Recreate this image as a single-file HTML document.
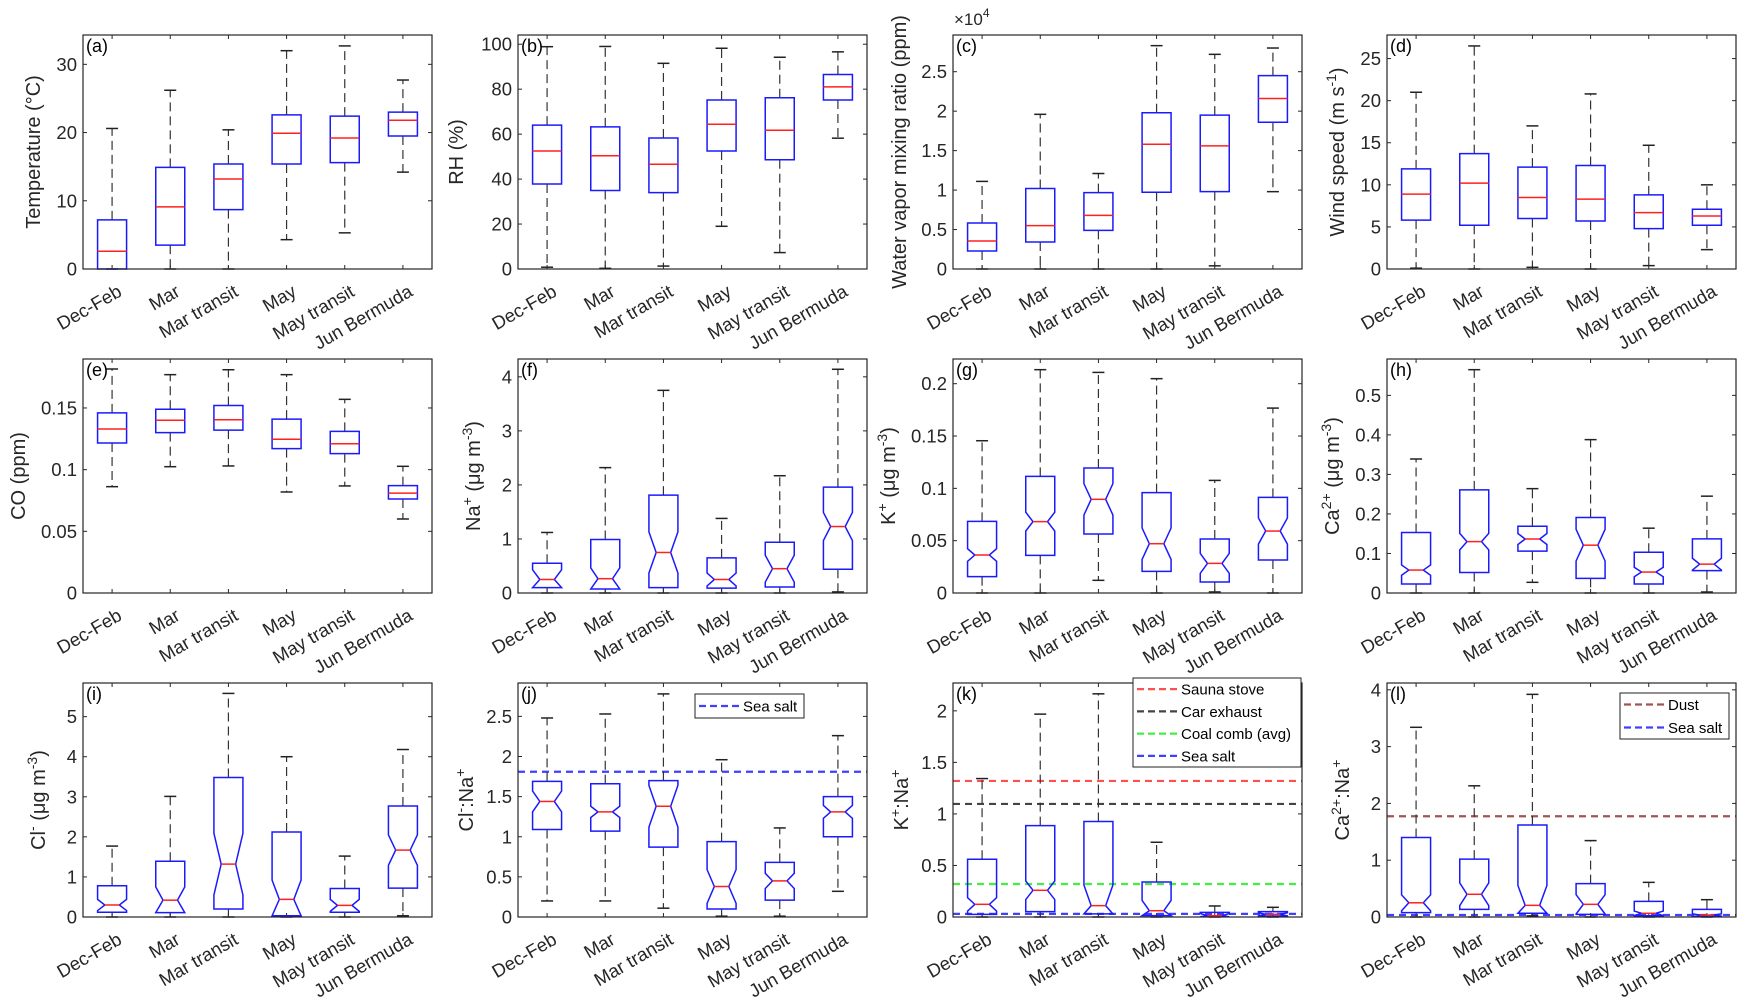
<!DOCTYPE html>
<html><head><meta charset="utf-8"><style>
html,body{margin:0;padding:0;background:#fff}
svg{display:block;font-family:"Liberation Sans",Arial,sans-serif}
</style></head><body>
<svg id="fig" width="1752" height="1005" viewBox="0 0 1752 1005" xmlns="http://www.w3.org/2000/svg"></svg>
<script>
const categories = ["Dec-Feb","Mar","Mar transit","May","May transit","Jun Bermuda"];
// per panel: whisker low, q1, median, q3, whisker high, notch half-height
const aLo=[0,0,0,4.3,5.3,14.2], aQ1=[0,3.5,8.7,15.4,15.6,19.5], aMed=[2.6,9.1,13.2,19.9,19.2,21.8], aQ3=[7.2,14.9,15.4,22.6,22.4,23], aHi=[20.6,26.2,20.4,32,32.7,27.7], aN=[0,0,0,0,0,0];
const bLo=[0.8,0.3,1.3,19,7.3,58.2], bQ1=[37.8,34.9,34,52.5,48.6,75.2], bMed=[52.5,50.4,46.6,64.4,61.7,81], bQ3=[64,63.2,58.3,75.2,76.2,86.5], bHi=[98.9,99,91.5,98.2,94.2,96.6], bN=[0,0,0,0,0,0];
const cLo=[0,0,0,0,0.04,0.98], cQ1=[0.228,0.342,0.49,0.972,0.98,1.86], cMed=[0.355,0.55,0.68,1.58,1.56,2.16], cQ3=[0.583,1.02,0.967,1.98,1.95,2.45], cHi=[1.11,1.96,1.21,2.83,2.72,2.8], cN=[0,0,0,0,0,0];
const dLo=[0.1,0,0.2,0,0.4,2.3], dQ1=[5.8,5.2,6,5.7,4.8,5.2], dMed=[8.9,10.2,8.5,8.3,6.7,6.3], dQ3=[11.9,13.7,12.1,12.3,8.8,7.1], dHi=[21,26.5,17,20.8,14.7,10], dN=[0,0,0,0,0,0];
const eLo=[0.0862,0.1024,0.103,0.0819,0.0868,0.06], eQ1=[0.1216,0.13,0.132,0.117,0.113,0.0762], eMed=[0.133,0.14,0.1405,0.1246,0.121,0.081], eQ3=[0.146,0.149,0.152,0.141,0.131,0.087], eHi=[0.1816,0.177,0.181,0.177,0.157,0.1027], eN=[0,0,0,0,0,0];
const fLo=[0,0,0,0,0,0.02], fQ1=[0.1,0.074,0.1,0.09,0.11,0.44], fMed=[0.25,0.265,0.75,0.25,0.45,1.23], fQ3=[0.55,0.99,1.81,0.65,0.94,1.96], fHi=[1.12,2.32,3.75,1.38,2.17,4.14], fN=[0.18,0.2,0.38,0.12,0.25,0.26];
const gLo=[0,0,0.0121,0,0.001,0], gQ1=[0.0156,0.036,0.0564,0.0207,0.0105,0.0315], gMed=[0.0363,0.0682,0.0895,0.0471,0.0283,0.0592], gQ3=[0.0685,0.1115,0.1194,0.0959,0.0516,0.0914], gHi=[0.1455,0.2134,0.2108,0.2048,0.1076,0.1767], gN=[0.006,0.009,0.015,0.015,0.0095,0.0125];
const hLo=[0,0,0.027,0,0,0.0025], hQ1=[0.0228,0.052,0.106,0.037,0.0228,0.0565], hMed=[0.058,0.13,0.1366,0.121,0.053,0.073], hQ3=[0.153,0.261,0.169,0.191,0.103,0.137], hHi=[0.339,0.565,0.264,0.388,0.164,0.245], hN=[0.013,0.021,0.014,0.04,0.012,0.015];
const iLo=[0,0,0,0,0,0.03], iQ1=[0.12,0.11,0.2,0.03,0.12,0.72], iMed=[0.3,0.42,1.32,0.44,0.29,1.67], iQ3=[0.78,1.39,3.48,2.12,0.71,2.77], iHi=[1.77,3.01,5.58,4.0,1.52,4.18], iN=[0.14,0.33,0.77,0.48,0.15,0.38];
const jLo=[0.2,0.2,0.11,0.01,0.01,0.32], jQ1=[1.09,1.07,0.87,0.1,0.21,1.0], jMed=[1.44,1.31,1.38,0.38,0.45,1.31], jQ3=[1.69,1.66,1.7,0.94,0.68,1.5], jHi=[2.48,2.53,2.78,1.96,1.11,2.26], jN=[0.13,0.07,0.26,0.21,0.095,0.08];
const kLo=[0,0,0,0,0,0], kQ1=[0.026,0.052,0.03,0.013,0.003,0.01], kMed=[0.123,0.259,0.11,0.061,0.013,0.026], kQ3=[0.56,0.887,0.926,0.34,0.045,0.052], kHi=[1.343,1.968,2.165,0.725,0.107,0.094], kN=[0.065,0.09,0.2,0.1,0.02,0.015];
const lLo=[0,0,0.02,0,0,0], lQ1=[0.076,0.135,0.065,0.047,0.023,0.012], lMed=[0.25,0.40,0.205,0.223,0.065,0.035], lQ3=[1.40,1.02,1.62,0.587,0.276,0.135], lHi=[3.34,2.31,3.92,1.345,0.61,0.305], lN=[0.14,0.2,0.35,0.17,0.04,0.02];
// reference ratio lines
const jRefNames=["Sea salt"], jRefValues=[1.81];
const kRefNames=["Sauna stove","Car exhaust","Coal comb (avg)","Sea salt"], kRefValues=[1.32,1.097,0.32,0.03];
const lRefNames=["Dust","Sea salt"], lRefValues=[1.774,0.035];
// tick labels
const aTicks=[0,10,20,30], bTicks=[0,20,40,60,80,100], cTicks=[0,0.5,1,1.5,2,2.5], dTicks=[0,5,10,15,20,25];
const eTicks=[0,0.05,0.1,0.15], fTicks=[0,1,2,3,4], gTicks=[0,0.05,0.1,0.15,0.2], hTicks=[0,0.1,0.2,0.3,0.4,0.5];
const iTicks=[0,1,2,3,4,5], jTicks=[0,0.5,1,1.5,2,2.5], kTicks=[0,0.5,1,1.5,2], lTicks=[0,1,2,3,4];

const NS="http://www.w3.org/2000/svg";
const svg=document.getElementById('fig');
function mk(tag,attrs,parent){const e=document.createElementNS(NS,tag);for(const k in attrs)e.setAttribute(k,attrs[k]);(parent||svg).appendChild(e);return e;}
const colL=[83,518,953,1387], rowT=[35,359,683], PW=349, PH=234;
const refColors={"Sauna stove":"#ff5050","Car exhaust":"#444444","Coal comb (avg)":"#44ee44","Sea salt":"#4040ff","Dust":"#a05555"};

const panels=[
 {id:'a',lo:aLo,q1:aQ1,med:aMed,q3:aQ3,hi:aHi,n:aN,ymax:34.3,ticks:aTicks,title:[["Temperature (°C)",0]],toff:43},
 {id:'b',lo:bLo,q1:bQ1,med:bMed,q3:bQ3,hi:bHi,n:bN,ymax:104.1,ticks:bTicks,title:[["RH (%)",0]],toff:55},
 {id:'c',lo:cLo,q1:cQ1,med:cMed,q3:cQ3,hi:cHi,n:cN,ymax:2.965,ticks:cTicks,title:[["Water vapor mixing ratio (ppm)",0]],toff:47},
 {id:'d',lo:dLo,q1:dQ1,med:dMed,q3:dQ3,hi:dHi,n:dN,ymax:27.8,ticks:dTicks,title:[["Wind speed (m s",0],["-1",1],[")",0]],toff:43},
 {id:'e',lo:eLo,q1:eQ1,med:eMed,q3:eQ3,hi:eHi,n:eN,ymax:0.1897,ticks:eTicks,title:[["CO (ppm)",0]],toff:58},
 {id:'f',lo:fLo,q1:fQ1,med:fMed,q3:fQ3,hi:fHi,n:fN,ymax:4.33,ticks:fTicks,title:[["Na",0],["+",1],[" (μg m",0],["-3",1],[")",0]],toff:38},
 {id:'g',lo:gLo,q1:gQ1,med:gMed,q3:gQ3,hi:gHi,n:gN,ymax:0.2236,ticks:gTicks,title:[["K",0],["+",1],[" (μg m",0],["-3",1],[")",0]],toff:58},
 {id:'h',lo:hLo,q1:hQ1,med:hMed,q3:hQ3,hi:hHi,n:hN,ymax:0.592,ticks:hTicks,title:[["Ca",0],["2+",1],[" (μg m",0],["-3",1],[")",0]],toff:48},
 {id:'i',lo:iLo,q1:iQ1,med:iMed,q3:iQ3,hi:iHi,n:iN,ymax:5.84,ticks:iTicks,title:[["Cl",0],["-",1],[" (μg m",0],["-3",1],[")",0]],toff:38},
 {id:'j',lo:jLo,q1:jQ1,med:jMed,q3:jQ3,hi:jHi,n:jN,ymax:2.916,ticks:jTicks,title:[["Cl",0],["-",1],[":Na",0],["+",1]],toff:45,refN:jRefNames,refV:jRefValues,leg:{x:695,y:694,w:109,h:24}},
 {id:'k',lo:kLo,q1:kQ1,med:kMed,q3:kQ3,hi:kHi,n:kN,ymax:2.27,ticks:kTicks,title:[["K",0],["+",1],[":Na",0],["+",1]],toff:45,refN:kRefNames,refV:kRefValues,leg:{x:1133,y:678,w:168,h:89}},
 {id:'l',lo:lLo,q1:lQ1,med:lMed,q3:lQ3,hi:lHi,n:lN,ymax:4.12,ticks:lTicks,title:[["Ca",0],["2+",1],[":Na",0],["+",1]],toff:38,refN:lRefNames,refV:lRefValues,leg:{x:1620,y:693,w:109,h:46}}
];

panels.forEach((p,pi)=>{
  const L=colL[pi%4], T=rowT[Math.floor(pi/4)], B=T+PH, R=L+PW;
  const g=mk('g',{});
  
  
  const xs=i=>L+(i+0.5)*PW/6;
  const ys=v=>B-v/p.ymax*PH;
  p.ticks.forEach(t=>{
    const y=ys(t);
    mk('line',{x1:L,x2:L+4,y1:y,y2:y,stroke:'#262626','stroke-width':1},g);
    mk('line',{x1:R,x2:R-4,y1:y,y2:y,stroke:'#262626','stroke-width':1},g);
    const tl=mk('text',{x:L-6,y:y+6.5,'text-anchor':'end','font-size':18.5,fill:'#262626'},g);
    tl.textContent=String(t);
    
    
  });
  categories.forEach((c,i)=>{
    const x=xs(i);
    mk('line',{x1:x,x2:x,y1:B,y2:B-4,stroke:'#262626','stroke-width':1},g);
    mk('line',{x1:x,x2:x,y1:T,y2:T+4,stroke:'#262626','stroke-width':1},g);
    const tx=x+11, ty=B+26;
    const cl=mk('text',{x:tx,y:ty,'text-anchor':'end','font-size':18.5,fill:'#262626',transform:`rotate(-30 ${tx} ${ty})`},g);
    cl.textContent=c;
    
    
  });
  if(p.refV){
    p.refV.forEach((v,k)=>{
      const rl=mk('line',{x1:L,x2:R,y1:ys(v),y2:ys(v),stroke:refColors[p.refN[k]],'stroke-width':2.2,'stroke-dasharray':'7 5'},g);
      
      
    });
  }
  const hw=14.5;
  categories.forEach((c,i)=>{
    const x=xs(i);
    const bg=mk('g',{},g);
    
    
    const yHi=ys(p.hi[i]), yQ3=ys(p.q3[i]), yM=ys(p.med[i]), yQ1=ys(p.q1[i]), yLo=ys(p.lo[i]);
    mk('line',{x1:x,x2:x,y1:yQ3,y2:yHi,stroke:'#333','stroke-width':1.2,'stroke-dasharray':'9 5'},bg);
    mk('line',{x1:x,x2:x,y1:yQ1,y2:yLo,stroke:'#333','stroke-width':1.2,'stroke-dasharray':'9 5'},bg);
    mk('line',{x1:x-6,x2:x+6,y1:yHi,y2:yHi,stroke:'#222','stroke-width':1.5},bg);
    mk('line',{x1:x-6,x2:x+6,y1:yLo,y2:yLo,stroke:'#222','stroke-width':1.5},bg);
    const n=p.n[i];
    let pts, mw=hw;
    if(n>0){
      const a=ys(Math.min(p.med[i]+n,p.q3[i])), b=ys(Math.max(p.med[i]-n,p.q1[i]));
      mw=hw/2;
      pts=[[x-hw,yQ1],[x-hw,b],[x-mw,yM],[x-hw,a],[x-hw,yQ3],[x+hw,yQ3],[x+hw,a],[x+mw,yM],[x+hw,b],[x+hw,yQ1]];
    } else {
      pts=[[x-hw,yQ1],[x-hw,yQ3],[x+hw,yQ3],[x+hw,yQ1]];
    }
    mk('polygon',{points:pts.map(q=>q.join(',')).join(' '),fill:'none',stroke:'#1a1aff','stroke-width':1.5},bg);
    mk('line',{x1:x-mw,x2:x+mw,y1:yM,y2:yM,stroke:'#ff2020','stroke-width':1.5},bg);
  });
  mk('rect',{x:L,y:T,width:PW,height:PH,fill:'none',stroke:'#262626','stroke-width':1.2},g);
  const pl=mk('text',{x:L+3,y:T+17,'font-size':18,fill:'#000'},g);
  pl.textContent='('+p.id+')';
  
  
  const cx=L-p.toff, cy=T+PH/2;
  const yt=mk('text',{x:cx,y:cy,'text-anchor':'middle','font-size':20,fill:'#262626',transform:`rotate(-90 ${cx} ${cy})`},g);
  
  
  let pend=0;
  p.title.forEach(([s,sup])=>{
    let ts;
    if(sup){ ts=mk('tspan',{'font-size':14,dy:-8+pend},yt); pend=8; }
    else { ts=mk('tspan',{dy:pend},yt); pend=0; }
    ts.textContent=s;
  });
  if(p.id==='c'){
    const ex=mk('text',{x:L+1,y:T-10,'font-size':17,fill:'#262626'},g);
    
    
    const t1=mk('tspan',{},ex); t1.textContent='×10';
    const e4=mk('tspan',{'font-size':12,dy:-8},ex); e4.textContent='4';
  }
  if(p.leg){
    const lg=mk('g',{},g);
    
    
    mk('rect',{x:p.leg.x,y:p.leg.y,width:p.leg.w,height:p.leg.h,fill:'#fff',stroke:'#222','stroke-width':1},lg);
    const step=p.leg.h/p.refN.length;
    p.refN.forEach((nm,k)=>{
      const yy=p.leg.y+step*(k+0.5);
      const ent=mk('g',{},lg);
      
      
      mk('line',{x1:p.leg.x+4,x2:p.leg.x+44,y1:yy,y2:yy,stroke:refColors[nm],'stroke-width':2.2,'stroke-dasharray':'7 4'},ent);
      const t=mk('text',{x:p.leg.x+48,y:yy+5.5,'font-size':15,fill:'#000'},ent);
      t.textContent=nm;
    });
  }
});
</script>
</body></html>
